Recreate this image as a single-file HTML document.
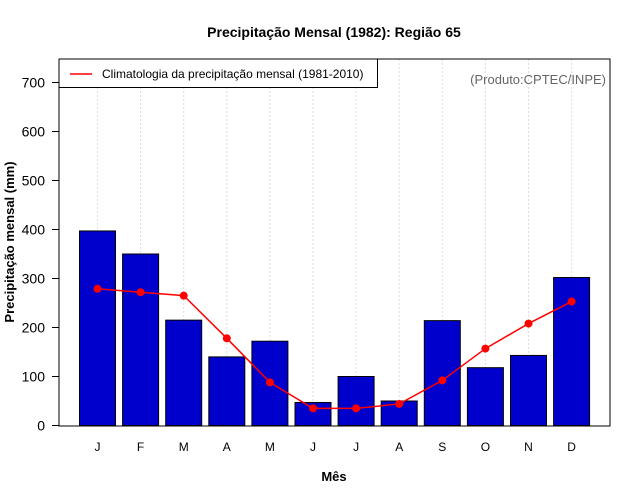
<!DOCTYPE html>
<html><head><meta charset="utf-8"><style>
body{margin:0;background:#fff;}
svg{display:block;font-family:"Liberation Sans",sans-serif;}
</style></head><body>
<svg id="chart" width="640" height="500">
<text x="334" y="37" text-anchor="middle" font-size="14" font-weight="bold">Precipitação Mensal (1982): Região 65</text>
<text x="334" y="481" text-anchor="middle" font-size="13" font-weight="bold">Mês</text>
<text transform="translate(14,242) rotate(-90)" text-anchor="middle" font-size="13" font-weight="bold">Precipitação mensal (mm)</text>
<g id="grid"></g><g id="bars"></g><g id="line"></g><g id="axes"></g>
<rect x="59" y="59" width="551" height="367" fill="none" stroke="#000" stroke-width="1"/>
<g>
<rect x="59" y="59" width="318.5" height="28.5" fill="#fff" stroke="#000"/>
<line x1="70" y1="74" x2="92" y2="74" stroke="red" stroke-width="1.5"/>
<text x="102" y="78" font-size="12">Climatologia da precipitação mensal (1981-2010)</text>
</g>
<text x="606" y="84" text-anchor="end" font-size="13" fill="#666">(Produto:CPTEC/INPE)</text>
</svg>
<script>
const months=["J","F","M","A","M","J","J","A","S","O","N","D"];
const precip=[397,350,215,140,172,47,100,50,214,118,143,302];
const climatology=[279,272,265,178,88,35,35,44,92,157,208,253];
const yTicks=[0,100,200,300,400,500,600,700];
const NS="http://www.w3.org/2000/svg";
const x=i=>97.5+i*43.1;
const y=v=>425.5-v*0.49;
function mk(t,a,p){const e=document.createElementNS(NS,t);for(const k in a)e.setAttribute(k,a[k]);p.appendChild(e);return e;}
const grid=document.getElementById('grid'),bars=document.getElementById('bars'),line=document.getElementById('line'),axes=document.getElementById('axes');
months.forEach((m,i)=>{
 const g=mk('line',{x1:x(i),x2:x(i),y1:59,y2:426,stroke:'#ddd','stroke-dasharray':'2,2'},grid);
 
 
 const b=mk('rect',{x:x(i)-18,y:y(precip[i]),width:36,height:y(0)-y(precip[i]),fill:'#0000cd',stroke:'#000','stroke-width':1},bars);
 
 
 const t=mk('text',{x:x(i),y:451,'text-anchor':'middle','font-size':12},axes);
 t.textContent=m;
 
 
});
const pl=mk('polyline',{points:climatology.map((v,i)=>x(i)+','+y(v)).join(' '),fill:'none',stroke:'red','stroke-width':1.5},line);


climatology.forEach((v,i)=>{
 const c=mk('circle',{cx:x(i),cy:y(v),r:4,fill:'red'},line);
 
 
});
yTicks.forEach(v=>{
 const l=mk('line',{x1:52,x2:59,y1:y(v),y2:y(v),stroke:'#000'},axes);
 
 
 const t=mk('text',{x:45,y:y(v)+5,'text-anchor':'end','font-size':14},axes);
 t.textContent=v;
 
 
});
</script>
</body></html>
